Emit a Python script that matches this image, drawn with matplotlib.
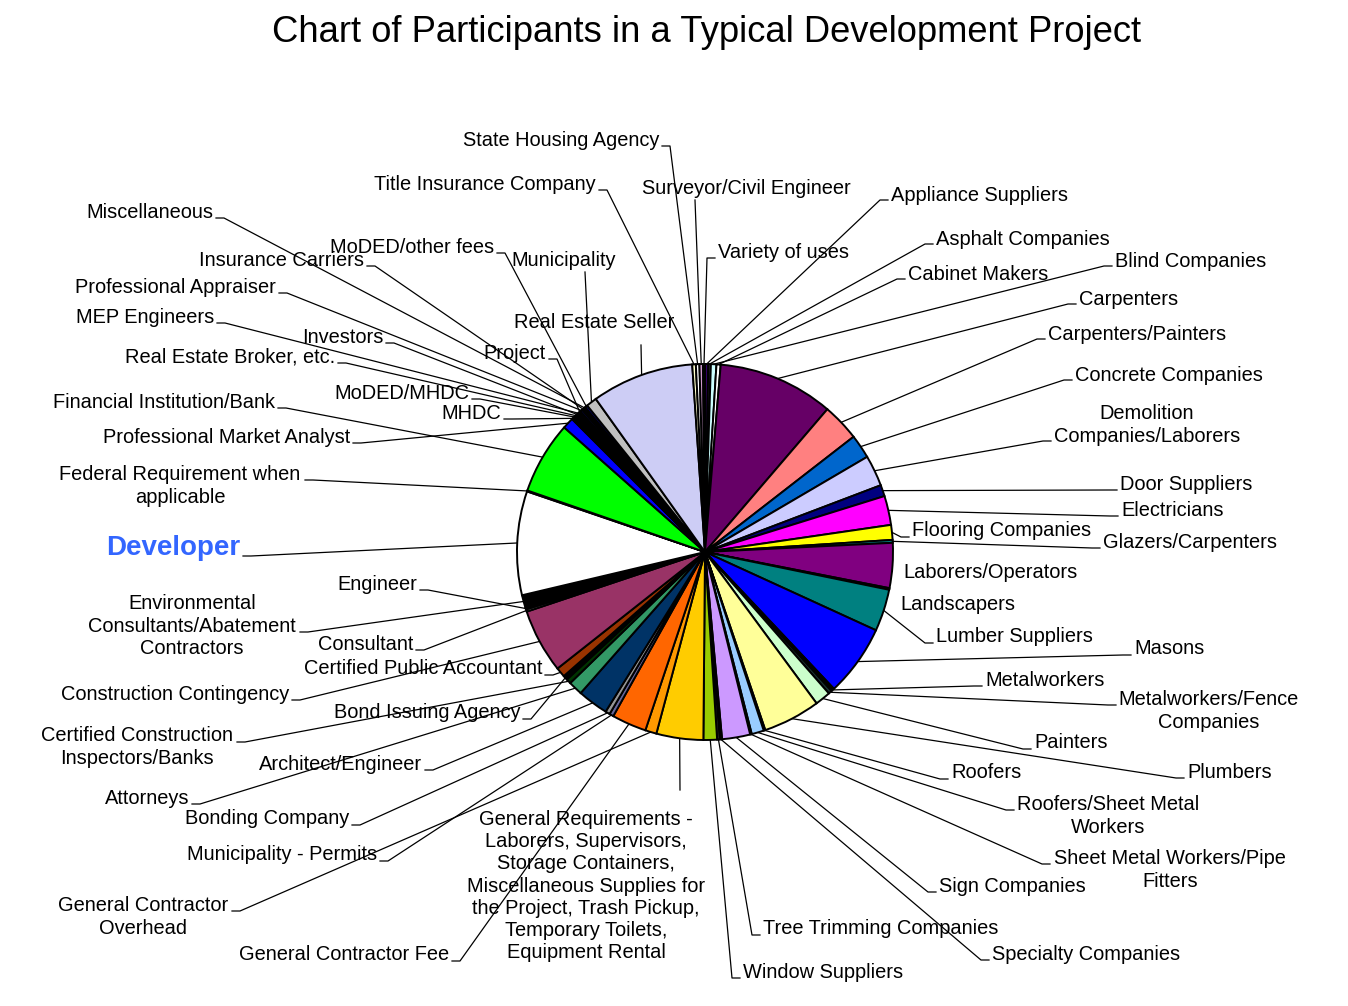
import numpy as np
import matplotlib
matplotlib.use("Agg")
import matplotlib.pyplot as plt

plt.rcParams['font.family'] = ['Liberation Sans', 'DejaVu Sans']

# slice order: clockwise from 12 o'clock, values read as degrees of the pie
participants = [
    "Appliance Suppliers", "Asphalt Companies", "Blind Companies", "Cabinet Makers",
    "Carpenters", "Carpenters/Painters", "Concrete Companies",
    "Demolition\nCompanies/Laborers", "Door Suppliers", "Electricians",
    "Flooring Companies", "Glazers/Carpenters", "Laborers/Operators", "Landscapers",
    "Lumber Suppliers", "Masons", "Metalworkers", "Metalworkers/Fence\nCompanies",
    "Painters", "Plumbers", "Roofers", "Roofers/Sheet Metal\nWorkers",
    "Sheet Metal Workers/Pipe\nFitters", "Sign Companies", "Specialty Companies",
    "Tree Trimming Companies", "Window Suppliers",
    "General Requirements -\nLaborers, Supervisors,\nStorage Containers,\n"
    "Miscellaneous Supplies for\nthe Project, Trash Pickup,\nTemporary Toilets,\n"
    "Equipment Rental",
    "General Contractor\nOverhead", "General Contractor Fee", "Municipality - Permits",
    "Bonding Company", "Architect/Engineer", "Attorneys",
    "Certified Construction\nInspectors/Banks", "Bond Issuing Agency",
    "Certified Public Accountant", "Construction Contingency", "Consultant", "Engineer",
    "Environmental\nConsultants/Abatement\nContractors", "Developer",
    "Federal Requirement when\napplicable", "Financial Institution/Bank",
    "Professional Market Analyst", "MHDC", "MoDED/MHDC", "Real Estate Broker, etc.",
    "Investors", "MEP Engineers", "Project", "Professional Appraiser",
    "Insurance Carriers", "Miscellaneous", "MoDED/other fees", "Municipality",
    "Real Estate Seller", "Title Insurance Company", "State Housing Agency",
    "Surveyor/Civil Engineer", "Variety of uses",
]
shares = [
    1.0, 0.8, 1.7, 1.3,
    35.8, 11.6, 7.4,
    9.6, 3.5, 9.0,
    4.6, 0.9, 13.9, 0.5,
    13.0, 22.1, 1.0, 1.1,
    4.8, 17.7, 0.5, 3.8,
    0.5, 8.7, 0.7,
    0.8, 4.2,
    14.5,
    3.5, 10.7, 1.3,
    1.4, 9.5, 4.4,
    1.5, 1.4,
    3.0, 19.8, 0.7, 0.6,
    3.9, 32.1,
    0.3, 22.4,
    3.5, 0.6, 0.6, 0.6,
    0.5, 0.6, 0.6, 0.7,
    0.6, 0.6, 0.8, 3.3,
    31.6, 1.1, 1.1,
    1.1, 0.6,
]
slice_colors = [
    '#330066', '#333333', '#CCFFFF', '#FFFFFF',
    '#660066', '#FF8080', '#0066CC',
    '#CCCCFF', '#000080', '#FF00FF',
    '#FFFF00', '#008080', '#800080', '#000000',
    '#008080', '#0000FF', '#000000', '#1A3333',
    '#CCFFCC', '#FFFF99', '#000000', '#99CCFF',
    '#000000', '#CC99FF', '#000000',
    '#333333', '#99CC00',
    '#FFCC00',
    '#FF9900', '#FF6600', '#666699',
    '#969696', '#003366', '#339966',
    '#003300', '#000000',
    '#993300', '#993366', '#808080', '#333333',
    '#000000', '#FFFFFF',
    '#000000', '#00FF00',
    '#0000FF', '#000000', '#000080', '#FF00FF',
    '#FFFF00', '#008000', '#000000', '#000080',
    '#800080', '#000000', '#000080', '#C0C0C0',
    '#CDCDF5', '#FFFFCC', '#FFFFFF',
    '#CC99CC', '#993366',
]

# label placement in pixels: text x, text y, alignment, leader kind, leader start
label_layout = {
    "Appliance Suppliers": (891, 195, 'left', 'R', 888, 200),
    "Asphalt Companies": (936, 239, 'left', 'R', 933, 244),
    "Blind Companies": (1115, 261, 'left', 'R', 1112, 266),
    "Cabinet Makers": (908, 274, 'left', 'R', 905, 279),
    "Carpenters": (1079, 299, 'left', 'R', 1076, 304),
    "Carpenters/Painters": (1048, 334, 'left', 'R', 1045, 339),
    "Concrete Companies": (1075, 375, 'left', 'R', 1072, 380),
    "Demolition\nCompanies/Laborers": (1147, 425, 'center', 'R', 1051, 441),
    "Door Suppliers": (1120, 484, 'left', 'R', 1117, 490),
    "Electricians": (1121, 510, 'left', 'R', 1118, 516),
    "Flooring Companies": (912, 531, 'left', 'R', 909, 537),
    "Glazers/Carpenters": (1103, 542, 'left', 'R', 1100, 548),
    "Laborers/Operators": (903, 573, 'left', None, 0, 0),
    "Landscapers": (900, 604, 'left', None, 0, 0),
    "Lumber Suppliers": (936, 637, 'left', 'R', 933, 643),
    "Masons": (1134, 649, 'left', 'R', 1131, 655),
    "Metalworkers": (985, 680, 'left', 'R', 982, 686),
    "Metalworkers/Fence\nCompanies": (1209, 711, 'center', 'R', 1116, 705),
    "Painters": (1034, 743, 'left', 'R', 1031, 749),
    "Plumbers": (1187, 772, 'left', 'R', 1184, 778),
    "Roofers": (951, 773, 'left', 'R', 948, 779),
    "Roofers/Sheet Metal\nWorkers": (1108, 816, 'center', 'R', 1014, 810),
    "Sheet Metal Workers/Pipe\nFitters": (1170, 870, 'center', 'R', 1050, 864),
    "Sign Companies": (939, 886, 'left', 'R', 936, 892),
    "Specialty Companies": (992, 954, 'left', 'R', 989, 960),
    "Tree Trimming Companies": (763, 929, 'left', 'R', 760, 935),
    "Window Suppliers": (743, 972, 'left', 'R', 740, 978),
    "General Contractor Fee": (449, 955, 'right', 'L', 452, 961),
    "General Contractor\nOverhead": (143, 917, 'center', 'L', 232, 911),
    "Municipality - Permits": (377, 855, 'right', 'L', 380, 861),
    "Bonding Company": (349, 819, 'right', 'L', 352, 825),
    "Attorneys": (189, 798, 'right', 'L', 192, 804),
    "Architect/Engineer": (422, 764, 'right', 'L', 425, 770),
    "Certified Construction\nInspectors/Banks": (137, 747, 'center', 'L', 237, 742),
    "Bond Issuing Agency": (520, 713, 'right', 'L', 523, 719),
    "Construction Contingency": (289, 694, 'right', 'L', 292, 700),
    "Certified Public Accountant": (542, 669, 'right', 'L', 545, 675),
    "Consultant": (413, 644, 'right', 'L', 416, 650),
    "Environmental\nConsultants/Abatement\nContractors": (192, 626, 'center', 'L', 300, 632),
    "Engineer": (417, 584, 'right', 'L', 420, 590),
    "Developer": (240, 548, 'right', 'L', 243, 556),
    "Federal Requirement when\napplicable": (180, 486, 'center', 'L', 305, 480),
    "Professional Market Analyst": (350, 437, 'right', 'L', 353, 443),
    "Financial Institution/Bank": (275, 402, 'right', 'L', 278, 408),
    "MHDC": (501, 413, 'right', 'L', 504, 419),
    "MoDED/MHDC": (469, 393, 'right', 'L', 472, 399),
    "Real Estate Broker, etc.": (335, 357, 'right', 'L', 338, 363),
    "Investors": (383, 337, 'right', 'L', 386, 343),
    "MEP Engineers": (214, 317, 'right', 'L', 217, 323),
    "Project": (546, 353, 'right', 'L', 549, 359),
    "Professional Appraiser": (276, 287, 'right', 'L', 279, 293),
    "Insurance Carriers": (364, 260, 'right', 'L', 367, 266),
    "Miscellaneous": (213, 212, 'right', 'L', 216, 218),
    "MoDED/other fees": (494, 247, 'right', 'L', 497, 253),
    "Municipality": (511, 260, 'left', 'V', 585, 272),
    "Real Estate Seller": (514, 322, 'left', 'V', 641, 345),
    "Title Insurance Company": (596, 184, 'right', 'L', 599, 190),
    "State Housing Agency": (659, 140, 'right', 'L', 662, 146),
    "Surveyor/Civil Engineer": (642, 188, 'left', 'V', 695, 200),
    "Variety of uses": (718, 252, 'left', 'R', 715, 258),
}
label_layout[participants[27]] = (586, 886, 'center', 'V', 680, 790)

W, H = 1348, 1006
CX, CY, R = 705, 552, 188


def Y(y):
    return H - y


fig = plt.figure(figsize=(W / 100, H / 100), dpi=100)
ax = fig.add_axes([0, 0, 1, 1])
wedges, _ = ax.pie(shares, colors=slice_colors, startangle=90, counterclock=False,
                   center=(CX, Y(CY)), radius=R,
                   wedgeprops=dict(edgecolor='black', linewidth=1.4))
ax.set_xlim(0, W)
ax.set_ylim(0, H)
ax.set_aspect('equal')
ax.axis('off')

for name, w in zip(participants, wedges):
    tx, ty, ha, kind, sx, sy = label_layout[name]
    if name == "Developer":
        ax.text(tx, Y(ty), name, ha=ha, va='center', fontsize=20, fontweight='bold',
                color='#3366FF')
    else:
        ax.text(tx, Y(ty), name, ha=ha, va='center', fontsize=14.4,
                multialignment='center', linespacing=1.22)
    if kind is None:
        continue
    mid = np.deg2rad((w.theta1 + w.theta2) / 2)
    px, py = CX + R * np.cos(mid), Y(CY) + R * np.sin(mid)
    if kind == 'L':
        xs, ys = [sx, sx + 8, px], [Y(sy), Y(sy), py]
    elif kind == 'R':
        xs, ys = [sx, sx - 8, px], [Y(sy), Y(sy), py]
    else:
        xs, ys = [sx, px], [Y(sy), py]
    ax.plot(xs, ys, color='black', linewidth=0.9, zorder=0.5)

ax.text(707, Y(32), "Chart of Participants in a Typical Development Project",
        ha='center', va='center', fontsize=26.2)

fig.savefig("out.png", dpi=100)
